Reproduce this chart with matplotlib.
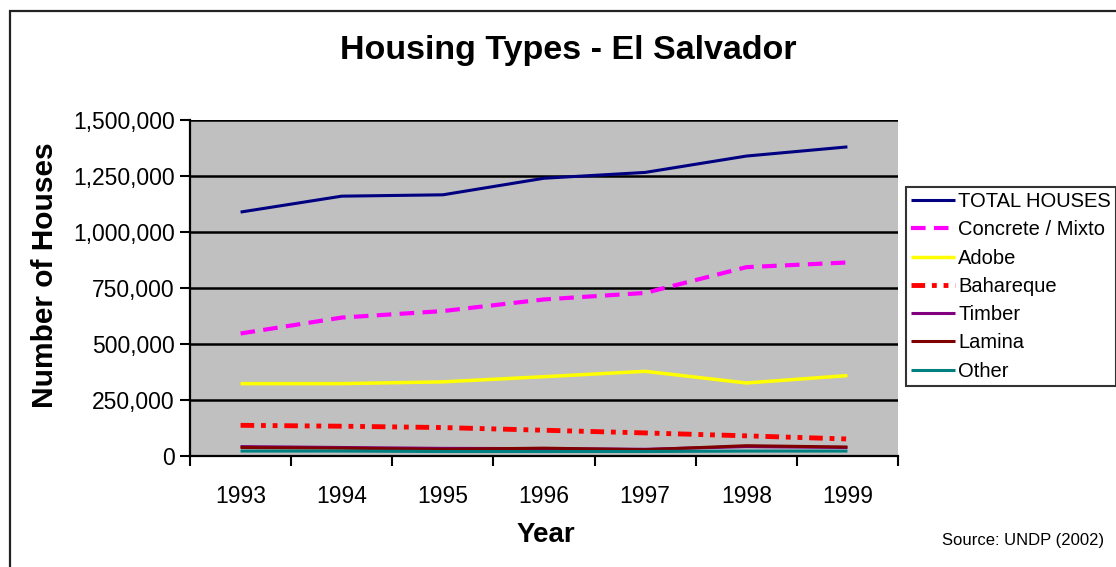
import matplotlib
matplotlib.use("Agg")
import matplotlib.pyplot as plt
from matplotlib.patches import Rectangle
from matplotlib.ticker import FuncFormatter, FixedLocator

plt.rcParams['font.family'] = ['Liberation Sans', 'DejaVu Sans']

years = ['1993', '1994', '1995', '1996', '1997', '1998', '1999']
total_houses = [1089000, 1160000, 1166000, 1240000, 1266000, 1339000, 1380000]
concrete = [547000, 618000, 647000, 699000, 728000, 843000, 864000]
adobe = [323000, 323000, 331000, 354000, 378000, 326000, 359000]
bahareque = [137000, 133000, 127000, 115000, 103000, 90000, 76000]
timber = [42000, 38000, 34000, 33000, 30000, 42000, 38000]
lamina = [38000, 35000, 30000, 35000, 28000, 46000, 40000]
other = [22000, 22000, 20000, 20000, 20000, 22000, 22000]

series = [
    ('TOTAL HOUSES', total_houses, '#000080', 2.2, None),
    ('Concrete / Mixto', concrete, '#FF00FF', 3.0, (3.5, 2.0)),
    ('Adobe', adobe, '#FFFF00', 2.5, None),
    ('Bahareque', bahareque, '#FF0000', 3.5, (2.8, 1.4, 1.0, 1.4, 1.0, 1.4)),
    ('Timber', timber, '#800080', 2.2, None),
    ('Lamina', lamina, '#800000', 2.2, None),
    ('Other', other, '#008080', 2.2, None),
]

W, H = 1116, 567
fig = plt.figure(figsize=(W / 100, H / 100), dpi=100)
fig.patch.set_facecolor('white')

# figure border
fig.add_artist(Rectangle((10 / W, -0.05), 1.2, 1 - 11 / H + 0.05, transform=fig.transFigure,
                         fill=False, edgecolor='#222222', linewidth=1.6))

ax = fig.add_axes([190 / W, 1 - 456 / H, (898 - 190) / W, (456 - 120) / H])
ax.set_facecolor('#C0C0C0')

x = list(range(len(years)))
for name, vals, col, lw, dash in series:
    line, = ax.plot(x, vals, color=col, linewidth=lw, label=name, solid_capstyle='butt')
    if dash:
        line.set_dashes(dash)

ax.set_xlim(-0.5, len(years) - 0.5)
ax.set_ylim(0, 1500000)
yt = [0, 250000, 500000, 750000, 1000000, 1250000, 1500000]
ax.set_yticks(yt)
ax.yaxis.set_major_formatter(FuncFormatter(lambda v, p: f"{int(v):,}"))
ax.grid(axis='y', color='black', linewidth=1.8)
ax.set_axisbelow(True)

ax.xaxis.set_major_locator(FixedLocator([i - 0.5 for i in range(len(years) + 1)]))
ax.xaxis.set_minor_locator(FixedLocator(x))
ax.set_xticklabels([''] * (len(years) + 1))
ax.set_xticklabels(years, minor=True)
ax.tick_params(axis='x', which='minor', length=0, labelsize=16.5, pad=21)
ax.tick_params(axis='x', which='major', length=7, width=1.5, color='black')
ax.tick_params(axis='y', length=7, width=1.5, labelsize=16.5, pad=4)

for s in ['top', 'right']:
    ax.spines[s].set_visible(False)
for s in ['left', 'bottom']:
    ax.spines[s].set_linewidth(1.6)
    ax.spines[s].set_color('black')

fig.text(568 / W, 1 - 50 / H, 'Housing Types - El Salvador', ha='center', va='center',
         fontsize=24.5, fontweight='bold')
fig.text(45 / W, 1 - 275 / H, 'Number of Houses', ha='center', va='center', rotation=90,
         fontsize=21.5, fontweight='bold')
fig.text(546 / W, 1 - 535 / H, 'Year', ha='center', va='center', fontsize=20, fontweight='bold')
fig.text(942 / W, 1 - 541 / H, 'Source: UNDP (2002)', ha='left', va='center', fontsize=12)

leg = fig.legend(loc='upper left', bbox_to_anchor=(906 / W, 1 - 187 / H),
                 bbox_transform=fig.transFigure, frameon=True, fancybox=False,
                 edgecolor='black', fontsize=14.5, handlelength=2.2, handletextpad=0.15,
                 labelspacing=0.46, borderpad=0.25, borderaxespad=0)
leg.get_frame().set_linewidth(1.5)

fig.savefig('out.png', dpi=100)
